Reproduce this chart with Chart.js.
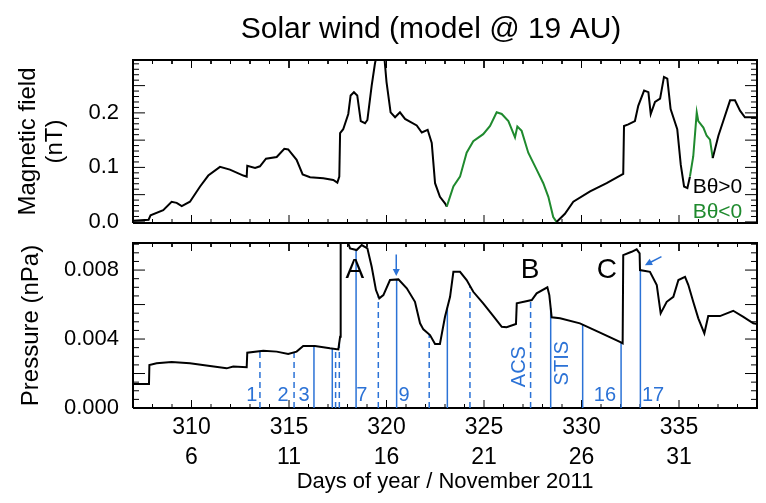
<!DOCTYPE html>
<html>
<head>
<meta charset="utf-8">
<script src="https://cdn.jsdelivr.net/npm/chart.js@4.4.0/dist/chart.umd.min.js"></script>
</head>
<body style="margin:0">
<canvas id="chart" width="766" height="503"></canvas>
<script>
// model run at 19 AU, days of year 307-339
var bDays = [307.0, 307.8, 307.9, 308.55, 308.98, 309.24, 309.5, 309.92, 310.44, 310.86, 311.46, 311.97,
  312.66, 312.83, 312.86, 313.26, 313.51, 313.82, 314.37, 314.76, 314.96, 315.39, 315.7, 316.08, 316.76,
  317.27, 317.48, 317.58, 317.62, 317.78, 318.04, 318.16, 318.33, 318.5, 318.68, 318.9, 319.02, 319.24,
  319.41, 319.53, 319.87, 320.0, 320.21, 320.44, 320.69, 320.95, 321.55, 321.81, 322.11, 322.32, 322.49,
  322.74, 323.0, 323.09, 323.43, 323.77, 324.11, 324.45, 324.96, 325.31, 325.65, 325.91, 326.25, 326.59,
  326.71, 326.93, 327.27, 327.7, 328.04, 328.3, 328.55, 328.72, 329.15, 329.58, 330.44, 331.29, 332.14,
  332.18, 332.4, 332.74, 332.91, 333.21, 333.43, 333.55, 333.77, 334.03, 334.23, 334.4, 334.57, 334.91,
  335.09, 335.26, 335.43, 335.56, 335.73, 335.91, 335.99, 336.25, 336.42, 336.59, 336.73, 337.02, 337.27,
  337.62, 337.87, 338.13, 338.38, 339.0];
var bField = [0.002, 0.004, 0.012, 0.0215, 0.037, 0.035, 0.029, 0.037, 0.065, 0.085, 0.101, 0.096,
  0.085, 0.083, 0.103, 0.099, 0.102, 0.116, 0.119, 0.134, 0.133, 0.114, 0.087, 0.082, 0.080,
  0.077, 0.072, 0.083, 0.163, 0.170, 0.198, 0.232, 0.238, 0.232, 0.185, 0.181, 0.187, 0.250,
  0.291, 0.310, 0.310, 0.257, 0.201, 0.192, 0.201, 0.189, 0.177, 0.164, 0.169, 0.145, 0.071,
  0.046, 0.034, 0.028, 0.065, 0.083, 0.127, 0.148, 0.161, 0.176, 0.201, 0.198, 0.185, 0.155,
  0.175, 0.167, 0.127, 0.096, 0.071, 0.046, 0.009, 0.000, 0.015, 0.037, 0.056, 0.071, 0.088,
  0.176, 0.179, 0.185, 0.213, 0.241, 0.238, 0.198, 0.220, 0.226, 0.266, 0.263, 0.207, 0.170,
  0.105, 0.065, 0.062, 0.083, 0.120, 0.201, 0.185, 0.173, 0.158, 0.151, 0.117, 0.158, 0.185,
  0.223, 0.223, 0.204, 0.192, 0.192];
// intervals where B_theta < 0
var bNegRanges = [[323.09, 328.72], [335.56, 336.73]];

var pDays = [307.0, 307.82, 307.84, 308.21, 308.98, 309.92, 310.95, 311.8, 312.14, 312.83, 312.86,
  313.68, 314.37, 314.96, 315.39, 315.73, 316.33, 317.1, 317.53, 317.62, 317.65, 317.96, 318.13,
  318.47, 318.73, 319.02, 319.24, 319.46, 319.63, 319.84, 320.18, 320.61, 321.04, 321.46, 321.72,
  321.89, 322.23, 322.49, 322.74, 323.0, 323.26, 323.43, 323.77, 324.11, 324.45, 324.96, 325.48,
  325.91, 326.16, 326.64, 326.68, 327.45, 327.7, 328.25, 328.35, 328.47, 328.9, 329.92, 330.95,
  331.97, 332.11, 332.14, 332.57, 332.83, 332.98, 333.0, 333.51, 333.86, 334.06, 334.37, 334.71,
  334.97, 335.31, 335.48, 335.73, 335.99, 336.3, 336.5, 337.1, 337.78, 338.3, 338.81, 339.0];
var pressure = [0.00139, 0.00139, 0.00249, 0.00259, 0.00267, 0.00259, 0.00243, 0.00230, 0.00240, 0.00236, 0.00321,
  0.00332, 0.00327, 0.00313, 0.00327, 0.00359, 0.00359, 0.00346, 0.00340, 0.00413, 0.0098, 0.0098, 0.00926,
  0.00916, 0.00945, 0.00926, 0.00819, 0.00684, 0.00636, 0.00655, 0.00742, 0.00746, 0.00694, 0.00616, 0.00491,
  0.00456, 0.00423, 0.00371, 0.00371, 0.00529, 0.00645, 0.00790, 0.00790, 0.00742, 0.00674, 0.00607, 0.00533,
  0.00471, 0.00468, 0.00487, 0.00607, 0.00626, 0.00665, 0.00700, 0.00655, 0.00526, 0.00520, 0.00491, 0.00437,
  0.00384, 0.00375, 0.00887, 0.00906, 0.00920, 0.00897, 0.00800, 0.00790, 0.00713, 0.00549, 0.00616, 0.00645,
  0.00742, 0.00761, 0.00713, 0.00616, 0.00520, 0.00433, 0.00533, 0.00533, 0.00564, 0.00529, 0.00491, 0.00487];

// observation times (solid) and intermediate times (dashed)
var eventDays = [313.51, 315.26, 316.28, 317.22, 317.39, 317.58, 318.44, 319.58, 320.52, 322.19,
  323.12, 324.28, 327.39, 328.42, 330.06, 332.03, 333.02];
var eventDashed = [true, true, false, false, true, true, false, true, false, true,
  false, true, true, false, false, false, false];

var dayTicks = [310, 315, 320, 325, 330, 335];
var novDays = ['6', '11', '16', '21', '26', '31'];
var fieldTicks = [0.0, 0.1, 0.2];
var pressureTicks = [0.000, 0.004, 0.008];

var FONT = "'Liberation Sans', Arial, Helvetica, sans-serif";
var GREEN = '#1f8a2e';
var BLUE = '#2b72d6';

// both panels share one chart area: upper panel, gap, lower panel (px)
var TOP_H = 163, GAP_H = 20, BOT_H = 165, AREA_H = TOP_H + GAP_H + BOT_H, AREA_W = 624;
var DAY_MIN = 307, DAY_MAX = 339;
var B_MIN = -0.002, B_MAX = 0.297;
var P_MIN = 0, P_MAX = 0.00957;

function interp(xs, ys, d) {
  for (var i = 1; i < xs.length; i++) {
    if (d <= xs[i]) {
      var t = (d - xs[i - 1]) / (xs[i] - xs[i - 1]);
      return ys[i - 1] + t * (ys[i] - ys[i - 1]);
    }
  }
  return ys[ys.length - 1];
}

function isNeg(x0, x1) {
  var m = (x0 + x1) / 2;
  return bNegRanges.some(function (r) { return m >= r[0] && m <= r[1]; });
}

// panel outline and inward tick marks, as line datasets on the panel's own y scale
function panelFrame(axisID, vMin, vMax, yStep, yEvery, panelH) {
  var perPxY = (vMax - vMin) / panelH, perPxX = (DAY_MAX - DAY_MIN) / AREA_W;
  var ticks = [];
  for (var d = DAY_MIN; d <= DAY_MAX; d++) {
    var L = (d % 5 === 0 ? 8 : 4) * perPxY;
    ticks.push({x: d, y: vMin}, {x: d, y: vMin + L}, {x: d, y: null});
    ticks.push({x: d, y: vMax}, {x: d, y: vMax - L}, {x: d, y: null});
  }
  var k0 = Math.ceil(vMin / yStep - 1e-6), k1 = Math.floor(vMax / yStep + 1e-6);
  for (var k = k0; k <= k1; k++) {
    var v = k * yStep, Lx = (k % yEvery === 0 ? 12 : 6) * perPxX;
    ticks.push({x: DAY_MIN, y: v}, {x: DAY_MIN + Lx, y: v}, {x: DAY_MIN + Lx, y: null});
    ticks.push({x: DAY_MAX, y: v}, {x: DAY_MAX - Lx, y: v}, {x: DAY_MAX - Lx, y: null});
  }
  return [{
    data: ticks, yAxisID: axisID, borderColor: '#000', borderWidth: 1,
    pointRadius: 0, spanGaps: false, tension: 0
  }, {
    data: [{x: DAY_MIN, y: vMin}, {x: DAY_MAX, y: vMin}, {x: DAY_MAX, y: vMax}, {x: DAY_MIN, y: vMax}, {x: DAY_MIN, y: vMin}],
    yAxisID: axisID, borderColor: '#000', borderWidth: 2, pointRadius: 0, tension: 0, clip: false
  }];
}

function drawText(ctx, text, px, py, size, color, rot, align) {
  ctx.save();
  ctx.translate(px, py);
  if (rot) ctx.rotate(rot);
  ctx.font = size + 'px ' + FONT;
  ctx.fillStyle = color;
  ctx.textAlign = align || 'center';
  ctx.textBaseline = 'middle';
  ctx.fillText(text, 0, 0);
  ctx.restore();
}

function arrow(ctx, x0, y0, x1, y1) {
  var ang = Math.atan2(y1 - y0, x1 - x0), h = 8;
  ctx.save();
  ctx.setLineDash([]);
  ctx.strokeStyle = BLUE; ctx.fillStyle = BLUE; ctx.lineWidth = 1.5;
  ctx.beginPath(); ctx.moveTo(x0, y0); ctx.lineTo(x1 - h * 0.6 * Math.cos(ang), y1 - h * 0.6 * Math.sin(ang)); ctx.stroke();
  ctx.beginPath();
  ctx.moveTo(x1, y1);
  ctx.lineTo(x1 - h * Math.cos(ang - 0.45), y1 - h * Math.sin(ang - 0.45));
  ctx.lineTo(x1 - h * Math.cos(ang + 0.45), y1 - h * Math.sin(ang + 0.45));
  ctx.closePath(); ctx.fill();
  ctx.restore();
}

var decor = {
  id: 'decor',
  afterDraw: function (chart) {
    var ctx = chart.ctx, xs = chart.scales.x, yb = chart.scales.yB, yp = chart.scales.yP;

    drawText(ctx, 'Solar wind (model @ 19 AU)', 431, 30, 30, '#000');
    var bMid = (yb.getPixelForValue(B_MIN) + yb.getPixelForValue(B_MAX)) / 2;
    var pMid = (yp.getPixelForValue(P_MIN) + yp.getPixelForValue(P_MAX)) / 2;
    drawText(ctx, 'Magnetic field', 28, bMid, 24, '#000', -Math.PI / 2);
    drawText(ctx, '(nT)', 55, bMid, 24, '#000', -Math.PI / 2);
    drawText(ctx, 'Pressure (nPa)', 31, pMid, 24, '#000', -Math.PI / 2);
    pressureTicks.forEach(function (v) {
      drawText(ctx, v.toFixed(3), 119, yp.getPixelForValue(v), 22, '#000', 0, 'right');
    });

    drawText(ctx, 'B\u03b8>0', xs.getPixelForValue(335.7), yb.getPixelForValue(0.064), 21, '#000', 0, 'left');
    drawText(ctx, 'B\u03b8<0', xs.getPixelForValue(335.7), yb.getPixelForValue(0.017), 21, GREEN, 0, 'left');

    var at = function (d, v) { return [xs.getPixelForValue(d), yp.getPixelForValue(v)]; };
    [['1', 313.09], ['2', 314.69], ['3', 315.77], ['7', 318.73], ['9', 320.9], ['16', 331.2], ['17', 333.67]]
      .forEach(function (l) { var p = at(l[1], 0.00075); drawText(ctx, l[0], p[0], p[1], 20, BLUE); });
    var p = at(326.8, 0.0024); drawText(ctx, 'ACS', p[0], p[1], 20, BLUE, -Math.PI / 2);
    p = at(329.05, 0.0026); drawText(ctx, 'STIS', p[0], p[1], 20, BLUE, -Math.PI / 2);
    [['A', 318.38], ['B', 327.36], ['C', 331.3]].forEach(function (l) {
      var q = at(l[1], 0.0080); drawText(ctx, l[0], q[0], q[1], 28, '#000');
    });
    var a0 = at(320.5, 0.0089), a1 = at(320.5, 0.00765);
    arrow(ctx, a0[0], a0[1], a1[0], a1[1]);
    var b0 = at(334.1, 0.00878), b1 = at(333.25, 0.00828);
    arrow(ctx, b0[0], b0[1], b1[0], b1[1]);
  }
};

var datasets = [{
  data: bDays.map(function (d, i) { return {x: d, y: bField[i]}; }),
  yAxisID: 'yB',
  borderColor: '#000', borderWidth: 2, pointRadius: 0, tension: 0,
  clip: {left: 0, right: 0, top: 0, bottom: -(GAP_H + BOT_H)},
  segment: { borderColor: function (c) { return isNeg(c.p0.parsed.x, c.p1.parsed.x) ? GREEN : '#000'; } }
}, {
  data: pDays.map(function (d, i) { return {x: d, y: pressure[i]}; }),
  yAxisID: 'yP',
  borderColor: '#000', borderWidth: 2, pointRadius: 0, tension: 0,
  clip: {left: 0, right: 0, top: -(TOP_H + GAP_H), bottom: 0}
}];
eventDays.forEach(function (d, i) {
  datasets.push({
    data: [{x: d, y: 0}, {x: d, y: interp(pDays, pressure, d)}],
    yAxisID: 'yP',
    borderColor: BLUE, borderWidth: 1.5, pointRadius: 0,
    borderDash: eventDashed[i] ? [6, 4] : []
  });
});
datasets = datasets.concat(panelFrame('yB', B_MIN, B_MAX, 0.01, 5, TOP_H),
                           panelFrame('yP', P_MIN, P_MAX, 0.0005, 4, BOT_H));

new Chart(document.getElementById('chart'), {
  type: 'line',
  data: {datasets: datasets},
  options: {
    responsive: false, animation: false, devicePixelRatio: 1,
    layout: {padding: {top: 60, right: 9, bottom: 0, left: 0}},
    plugins: {legend: {display: false}, tooltip: {enabled: false}},
    scales: {
      x: {
        type: 'linear', position: 'bottom', min: DAY_MIN, max: DAY_MAX,
        afterBuildTicks: function (s) { s.ticks = dayTicks.map(function (v) { return {value: v}; }); },
        afterFit: function (s) { s.height = 95; s.paddingLeft = 0; s.paddingRight = 0; },
        grid: {display: false, drawTicks: false}, border: {display: false},
        ticks: {padding: 5, maxRotation: 0, autoSkip: false, color: '#000',
          font: {family: FONT, size: 23, lineHeight: 1.3},
          callback: function (v) { return [String(v), novDays[dayTicks.indexOf(v)]]; }},
        title: {display: true, text: 'Days of year / November 2011', color: '#000',
          font: {family: FONT, size: 22, lineHeight: 1.2}, padding: {top: 0, bottom: 8}}
      },
      yB: {
        type: 'linear', axis: 'y', position: 'left',
        min: B_MAX - (B_MAX - B_MIN) * AREA_H / TOP_H, max: B_MAX,
        afterBuildTicks: function (s) { s.ticks = fieldTicks.map(function (v) { return {value: v}; }); },
        afterFit: function (s) { s.width = 133; s.paddingTop = 0; s.paddingBottom = 0; },
        grid: {display: false, drawTicks: false}, border: {display: false},
        ticks: {padding: 14, color: '#000', font: {family: FONT, size: 22},
          callback: function (v) { return v.toFixed(1); }}
      },
      yP: {
        type: 'linear', axis: 'y', position: 'left', display: false,
        min: P_MIN, max: P_MIN + (P_MAX - P_MIN) * AREA_H / BOT_H,
        afterFit: function (s) { s.width = 0; s.paddingTop = 0; s.paddingBottom = 0; }
      }
    }
  },
  plugins: [decor]
});
</script>
</body>
</html>
